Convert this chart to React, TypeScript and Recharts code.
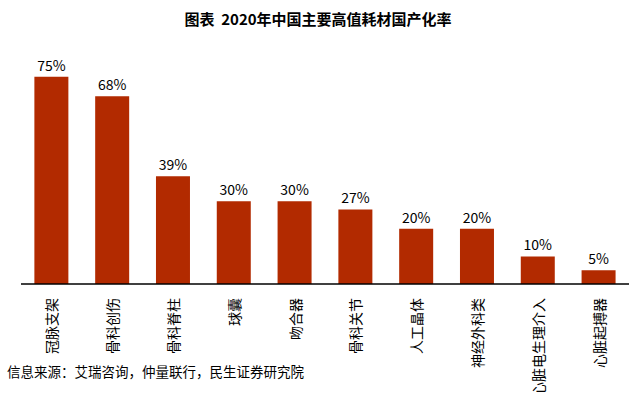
import { Bar, BarChart, LabelList, XAxis, YAxis } from 'recharts'

const categories = ['冠脉支架', '骨科创伤', '骨科脊柱', '球囊', '吻合器', '骨科关节', '人工晶体', '神经外科类', '心脏电生理介入', '心脏起搏器']
const rates = [75, 68, 39, 30, 30, 27, 20, 20, 10, 5]

const data = categories.map((name, i) => ({ name, value: rates[i] }))

const FONT = '"Noto Sans CJK SC", "Noto Sans", sans-serif'

function VerticalTick(props: any) {
  const { x, y, payload } = props
  return (
    <text
      x={x}
      y={y + 6}
      transform={`rotate(-90, ${x}, ${y + 6})`}
      textAnchor="end"
      dominantBaseline="central"
      fill="#000"
      fontSize={14}
      fontFamily={FONT}
    >
      {payload.value}
    </text>
  )
}

export default function App() {
  return (
    <div style={{ position: 'relative', width: 636, height: 393, background: '#fff', fontFamily: FONT }}>
      <style>{'body{margin:0}'}</style>
      <div
        style={{
          position: 'absolute',
          top: 8,
          left: 0,
          width: 636,
          textAlign: 'center',
          fontSize: 15,
          fontWeight: 700,
          color: '#000',
          whiteSpace: 'pre',
        }}
      >
        {'图表  2020年中国主要高值耗材国产化率'}
      </div>
      <BarChart
        width={636}
        height={393}
        data={data}
        margin={{ top: 63, right: 7, left: 21, bottom: 0 }}
        barCategoryGap="22%"
      >
        <XAxis
          dataKey="name"
          interval={0}
          height={109}
          tickLine={false}
          axisLine={{ stroke: '#000', strokeWidth: 1.5 }}
          tick={<VerticalTick />}
        />
        <YAxis hide domain={[0, 80]} />
        <Bar dataKey="value" fill="#B22A00" isAnimationActive={false}>
          <LabelList
            dataKey="value"
            position="top"
            offset={6}
            formatter={(v: any) => `${v}%`}
            style={{ fill: '#000', fontSize: 14, fontFamily: FONT }}
          />
        </Bar>
      </BarChart>
      <div style={{ position: 'absolute', top: 361, left: 7, fontSize: 13.5, color: '#000', whiteSpace: 'nowrap' }}>
        信息来源：艾瑞咨询，仲量联行，民生证券研究院
      </div>
    </div>
  )
}
